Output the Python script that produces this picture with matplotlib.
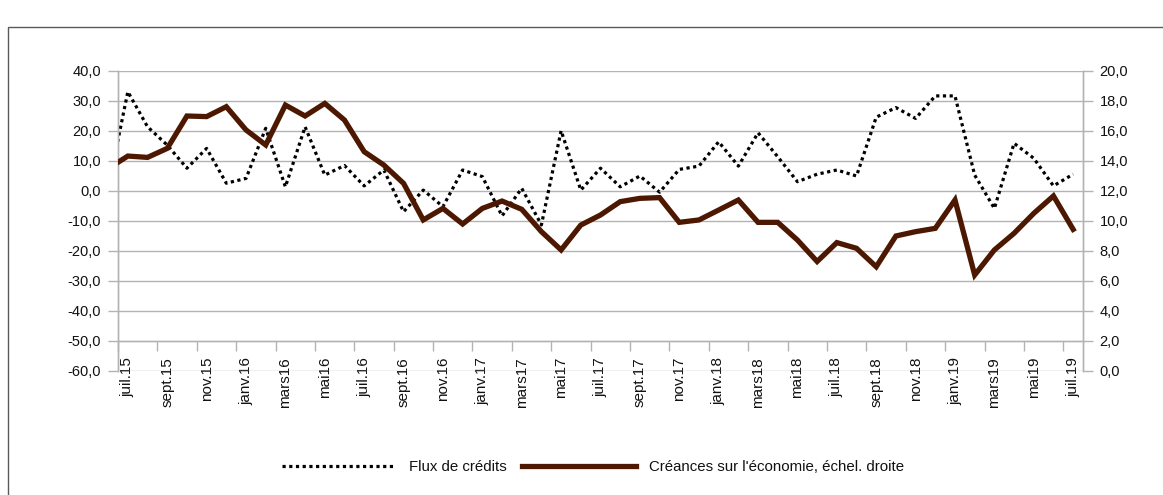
import matplotlib
matplotlib.use("Agg")
import matplotlib.pyplot as plt
from matplotlib.patches import Rectangle
from matplotlib.ticker import FuncFormatter, MultipleLocator

plt.rcParams["font.family"] = ["Liberation Sans", "DejaVu Sans"]

# months juil.15 .. juil.19 (49 categories)
months = [
    "juil.15", "août15", "sept.15", "oct.15", "nov.15", "déc.15",
    "janv.16", "févr.16", "mars16", "avr.16", "mai16", "juin16",
    "juil.16", "août16", "sept.16", "oct.16", "nov.16", "déc.16",
    "janv.17", "févr.17", "mars17", "avr.17", "mai17", "juin17",
    "juil.17", "août17", "sept.17", "oct.17", "nov.17", "déc.17",
    "janv.18", "févr.18", "mars18", "avr.18", "mai18", "juin18",
    "juil.18", "août18", "sept.18", "oct.18", "nov.18", "déc.18",
    "janv.19", "févr.19", "mars19", "avr.19", "mai19", "juin19",
    "juil.19",
]

# juin.15 value, just left of the plotted range (its segment is clipped)
flux_prev = 1.0
creances_prev = 13.5

flux = [
    33.1, 21.4, 15.3, 7.6, 14.2, 2.6, 4.2, 20.9, 1.4, 21.4, 5.3, 8.5,
    1.7, 7.0, -6.9, 0.3, -5.2, 7.0, 4.8, -8.3, 0.9, -11.3, 20.1, 0.3,
    7.6, 1.4, 5.0, -0.4, 7.2, 8.3, 16.4, 8.3, 19.4, 11.4, 3.1, 5.6,
    7.0, 5.0, 24.6, 27.8, 24.2, 31.7, 31.7, 5.3, -5.8, 15.9, 10.9, 1.7,
    5.6,
]

creances = [
    14.33, 14.24, 14.84, 17.0, 16.96, 17.62, 16.07, 15.07, 17.73, 17.0, 17.84, 16.73,
    14.62, 13.73, 12.51, 10.07, 10.84, 9.8, 10.84, 11.33, 10.78, 9.29, 8.07, 9.73,
    10.4, 11.29, 11.51, 11.56, 9.91, 10.07, 10.73, 11.4, 9.91, 9.91, 8.73, 7.3,
    8.56, 8.18, 6.95, 9.0, 9.29, 9.51, 11.4, 6.4, 8.07, 9.18, 10.51, 11.67,
    9.44,
]

x = list(range(-1, len(months)))
flux_all = [flux_prev] + flux
creances_all = [creances_prev] + creances

W, H = 1163, 495
fig = plt.figure(figsize=(W / 100, H / 100), dpi=100)

# outer frame
fig.patches.append(Rectangle((7.5 / W, -0.1), 1.2, (H - 27) / H + 0.1,
                             transform=fig.transFigure, fill=False,
                             edgecolor="#5a5a5a", linewidth=1.0))

ax = fig.add_axes([118 / W, 1 - 371 / H, (1083 - 118) / W, (371 - 71) / H])
ax2 = ax.twinx()

GRID = "#b3b3b3"
TXT = "#111111"

ax.plot(x, flux_all, color="black", linewidth=2.3, linestyle=(0, (1, 1.1)),
        label="Flux de crédits", zorder=3)
ax2.plot(x, creances_all, color="#4d1802", linewidth=3.8,
         solid_joinstyle="miter", label="Créances sur l'économie, échel. droite",
         zorder=3)

ax.set_xlim(-0.5, len(months) - 0.5)
ax.set_ylim(-60, 40)
ax2.set_ylim(0, 20)

ax.yaxis.set_major_locator(MultipleLocator(10))
ax2.yaxis.set_major_locator(MultipleLocator(2))
fmt = FuncFormatter(lambda v, _: f"{v:.1f}".replace(".", ","))
ax.yaxis.set_major_formatter(fmt)
ax2.yaxis.set_major_formatter(fmt)

ax.grid(axis="y", color=GRID, linewidth=1.0)
ax.set_axisbelow(True)

# category axis sits at -50 (crossing point), labels every two months
ax.spines["bottom"].set_position(("data", -50))
ax.set_xticks(range(0, len(months), 2))
ax.set_xticklabels(months[::2], rotation=90)
ax.set_xticks([i - 0.5 for i in range(0, len(months), 2)], minor=True)
ax.tick_params(axis="x", which="major", length=0, pad=11.5, labelsize=11,
               labelcolor=TXT)
ax.tick_params(axis="x", which="minor", length=7.5, width=1.0, color=GRID,
               direction="out")

ax.tick_params(axis="y", length=7, width=1.0, color=GRID, labelsize=10.5,
               labelcolor=TXT, pad=5)
ax2.tick_params(axis="y", length=7, width=1.0, color=GRID, labelsize=10.5,
                labelcolor=TXT, pad=5)

for a in (ax, ax2):
    a.spines["top"].set_visible(False)
    for s in ("left", "right", "bottom"):
        a.spines[s].set_color(GRID)
        a.spines[s].set_linewidth(1.0)
ax2.spines["bottom"].set_visible(False)

h1, l1 = ax.get_legend_handles_labels()
h2, l2 = ax2.get_legend_handles_labels()
fig.legend(h1 + h2, l1 + l2, loc="center", ncol=2, frameon=False,
           bbox_to_anchor=(593 / W, 1 - 467 / H), fontsize=10.8,
           handlelength=7.6, handletextpad=0.85, columnspacing=1.0,
           labelcolor=TXT)

fig.savefig("out.png", dpi=100)
